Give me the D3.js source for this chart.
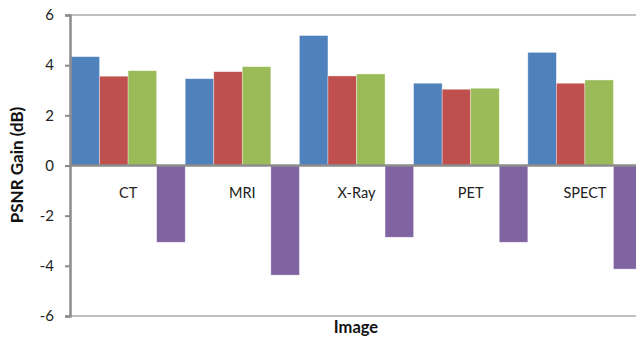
<!DOCTYPE html>
<html><head><meta charset="utf-8">
<script src="https://cdn.jsdelivr.net/npm/d3@7"></script>
<style>body{margin:0;background:#fff}svg{display:block}</style>
</head><body><svg id="c" width="636" height="339"></svg>
<script>
const categories = ["CT", "MRI", "X-Ray", "PET", "SPECT"];
const seriesNames = ["S1", "S2", "S3", "S4"];
const s1 = [4.34, 3.46, 5.18, 3.28, 4.51];
const s2 = [3.56, 3.74, 3.57, 3.04, 3.28];
const s3 = [3.78, 3.94, 3.65, 3.08, 3.41];
const s4 = [-3.06, -4.37, -2.86, -3.06, -4.13];
const yTicks = [-6, -4, -2, 0, 2, 4, 6];
const colors = ["#4f81bd", "#c0504d", "#9bbb59", "#8064a2"];

const series = [s1, s2, s3, s4];
const svg = d3.select("#c");
const font = "Lato, 'Open Sans', sans-serif";
const x0 = d3.scaleBand().domain(categories).range([71, 642]).padding(0);
const x1 = d3.scaleBand().domain(seriesNames).range([0, x0.bandwidth()]).padding(0);
const y = d3.scaleLinear().domain([-6, 6]).range([316, 15]);

// top & bottom border lines
svg.selectAll("line.border").data([6, -6]).enter().append("line")
  .attr("x1", 70).attr("x2", 636).attr("y1", d => y(d)).attr("y2", d => y(d))
  .attr("stroke", "#c0c0c0").attr("stroke-width", 2);

// bars
categories.forEach((c, i) => {
  series.forEach((s, j) => {
    const v = s[i];
    svg.append("rect")
      .attr("x", x0(c) + x1(seriesNames[j]))
      .attr("width", x1.bandwidth())
      .attr("y", y(Math.max(0, v)))
      .attr("height", Math.abs(y(v) - y(0)))
      .attr("fill", colors[j])
      .attr("stroke", "rgba(255,255,255,0.5)").attr("stroke-width", 0.7);
  });
});

// zero line
svg.append("line").attr("x1", 70).attr("x2", 636).attr("y1", y(0)).attr("y2", y(0))
  .attr("stroke", "#8c8c8c").attr("stroke-width", 2.5);

// y axis
const ya = svg.append("g").attr("transform", "translate(70,0)")
  .call(d3.axisLeft(y).tickValues(yTicks).tickSize(5).tickPadding(11).tickFormat(d3.format("d")));
ya.select(".domain").attr("stroke", "#8c8c8c").attr("stroke-width", 2.5);
ya.selectAll(".tick line").attr("stroke", "#8c8c8c").attr("stroke-width", 2);
ya.selectAll(".tick text").attr("font-family", font).attr("font-size", 15).attr("fill", "#222")
  .text(d => d < 0 ? "-" + Math.abs(d) : d);

// category labels
svg.selectAll("text.cat").data(categories).enter().append("text")
  .attr("x", d => x0(d) + x0.bandwidth() / 2).attr("y", 198)
  .attr("text-anchor", "middle").attr("font-family", font).attr("font-size", 14.5).attr("fill", "#222")
  .text(d => d);

// axis titles
svg.append("text").attr("x", 356).attr("y", 333).attr("text-anchor", "middle")
  .attr("font-family", font).attr("font-weight", "bold").attr("font-size", 16.5).attr("fill", "#111")
  .text("Image");
svg.append("text").attr("transform", "translate(23,165) rotate(-90)").attr("text-anchor", "middle")
  .attr("font-family", font).attr("font-weight", "bold").attr("font-size", 17).attr("fill", "#111")
  .text("PSNR Gain (dB)");
</script></body></html>
